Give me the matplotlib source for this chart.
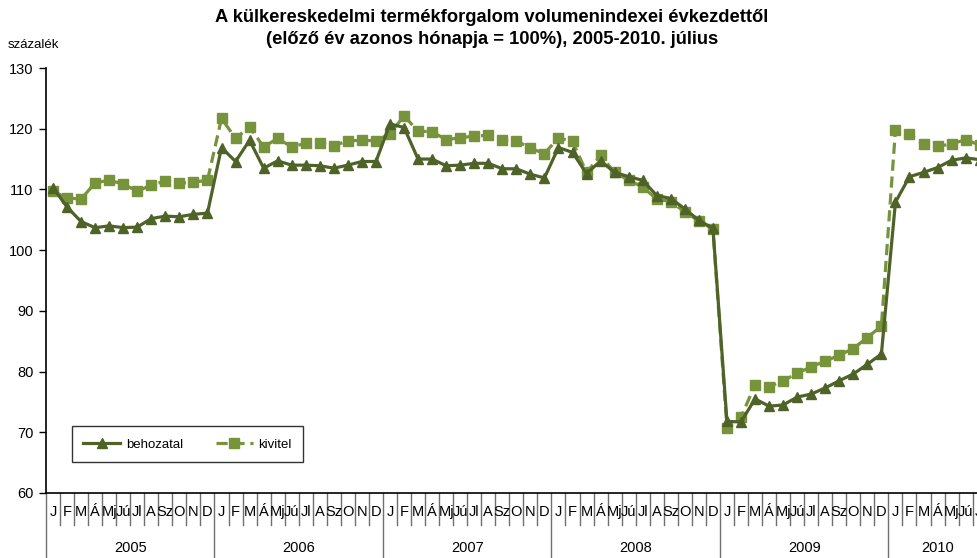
import matplotlib
matplotlib.use("Agg")
import matplotlib.pyplot as plt
import numpy as np
from matplotlib.transforms import blended_transform_factory

plt.rcParams['font.family'] = ['Liberation Sans', 'DejaVu Sans']

years = ["2005", "2006", "2007", "2008", "2009", "2010"]
months_per_year = [12, 12, 12, 12, 12, 7]
month_labels = ["J", "F", "M", "Á", "Mj", "Jú", "Jl", "A", "Sz", "O", "N", "D"]

behozatal = [
    110.3, 107.1, 104.7, 103.7, 104.0, 103.7, 103.8, 105.2, 105.6, 105.5, 105.9, 106.1,
    116.9, 114.6, 118.1, 113.5, 114.7, 114.0, 114.0, 113.9, 113.5, 114.0, 114.6, 114.6,
    120.8, 120.2, 115.0, 115.0, 113.9, 114.0, 114.3, 114.3, 113.4, 113.4, 112.5, 111.9,
    116.9, 116.1, 112.6, 114.7, 112.8, 112.1, 111.5, 109.0, 108.5, 106.8, 104.9, 103.6,
    71.8, 71.7, 75.5, 74.3, 74.5, 75.8, 76.3, 77.3, 78.5, 79.6, 81.2, 82.9,
    107.9, 112.1, 112.8, 113.6, 114.8, 115.2, 114.9,
]
kivitel = [
    109.7, 108.6, 108.4, 111.1, 111.5, 110.9, 109.7, 110.7, 111.4, 111.0, 111.2, 111.5,
    121.7, 118.4, 120.3, 117.0, 118.4, 117.0, 117.6, 117.7, 117.2, 118.0, 118.1, 118.0,
    119.2, 122.1, 119.6, 119.5, 118.2, 118.5, 118.8, 118.9, 118.1, 118.0, 116.8, 115.9,
    118.5, 117.9, 112.8, 115.6, 112.8, 111.5, 110.4, 108.4, 108.0, 106.3, 104.8, 103.5,
    70.7, 72.5, 77.8, 77.5, 78.5, 79.7, 80.8, 81.7, 82.7, 83.8, 85.6, 87.5,
    119.8, 119.1, 117.5, 117.1, 117.5, 118.2, 117.3,
]

W, H = 977, 558
fig = plt.figure(figsize=(W / 100, H / 100), dpi=100)
left_px, right_px, top_px, bottom_px = 46, 986.7, 68, 493
ax = fig.add_axes([left_px / W, (H - bottom_px) / H,
                   (right_px - left_px) / W, (bottom_px - top_px) / H])

n = len(behozatal)
x = np.arange(n)
dark = "#4F6228"
light = "#77933C"

ax.plot(x, behozatal, color=dark, lw=2.3, marker="^", markersize=7.5,
        markerfacecolor=dark, markeredgecolor=dark, label="behozatal", zorder=3)
ax.plot(x, kivitel, color=light, lw=2.3, ls=(0, (3.5, 1.8)), marker="s", markersize=6.5,
        markerfacecolor=light, markeredgecolor=light, label="kivitel", zorder=2)

ax.set_xlim(-0.5, n - 0.5)
ax.set_ylim(60, 130)
ax.set_yticks(np.arange(60, 131, 10))
ax.tick_params(axis="y", direction="out", length=5, width=1, labelsize=10.5, pad=4,
               color="black")
ax.set_xticks([])
for s in ["top", "right"]:
    ax.spines[s].set_visible(False)
ax.spines["left"].set_linewidth(1.2)
ax.spines["bottom"].set_linewidth(1.2)

# category axis: month labels, month separators, year separators and labels
trans = blended_transform_factory(ax.transData, ax.transAxes)
ax_h_px = bottom_px - top_px
month_sep = -(525 - bottom_px) / ax_h_px
year_sep = -(H - bottom_px) / ax_h_px
month_text_y = -(512 - bottom_px) / ax_h_px
year_text_y = -(548 - bottom_px) / ax_h_px

idx = 0
for yr, cnt in zip(years, months_per_year):
    start = idx
    ax.plot([start - 0.5, start - 0.5], [0, year_sep], transform=trans, color="#707070",
            lw=1, clip_on=False)
    for m in range(cnt):
        i = start + m
        if m > 0:
            ax.plot([i - 0.5, i - 0.5], [0, month_sep], transform=trans, color="#707070",
                    lw=1, clip_on=False)
        ax.text(i, month_text_y, month_labels[m], transform=trans, ha="center",
                va="center", fontsize=10.5, clip_on=False)
    idx += cnt
    ax.text((start + idx - 1) / 2, year_text_y, yr, transform=trans, ha="center",
            va="center", fontsize=10.5, clip_on=False)
ax.plot([idx - 0.5, idx - 0.5], [0, year_sep], transform=trans, color="#707070",
        lw=1, clip_on=False)

leg = ax.legend(loc="lower left", bbox_to_anchor=(0.0202, 0.0565, 0.2604, 0.0988),
                mode="expand", ncol=2, fontsize=9.5, frameon=True, fancybox=False,
                edgecolor="black", handlelength=2.8, borderpad=0.9, columnspacing=2.0,
                handletextpad=0.4)
leg.get_frame().set_linewidth(1.0)

fig.text(492 / W, 1 - 18 / H, "A külkereskedelmi termékforgalom volumenindexei évkezdettől",
         ha="center", va="center", fontsize=13.2, fontweight="bold")
fig.text(492 / W, 1 - 40 / H, "(előző év azonos hónapja = 100%), 2005-2010. július",
         ha="center", va="center", fontsize=13.2, fontweight="bold")
fig.text(8 / W, 1 - 45 / H, "százalék", ha="left", va="center", fontsize=9.5)

fig.savefig("out.png", dpi=100)
